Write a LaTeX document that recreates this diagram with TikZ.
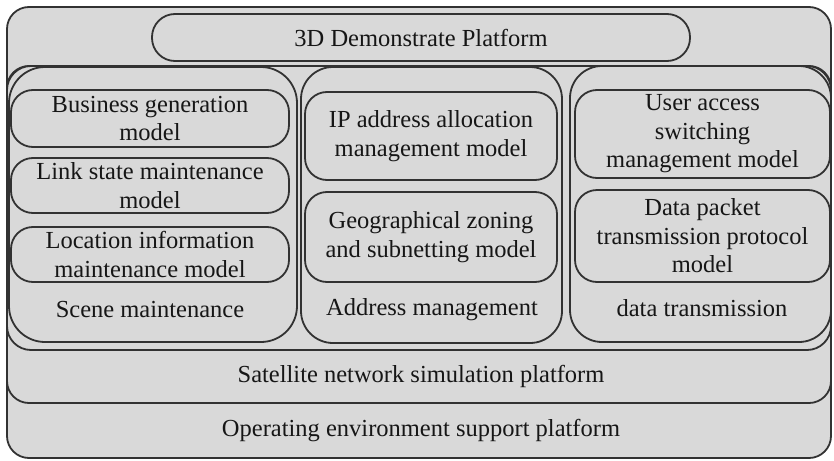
\documentclass[tikz,border=0pt]{standalone}
\usepackage{fontspec}
\setmainfont{Liberation Serif}
\definecolor{boxgray}{RGB}{217,217,217}
\definecolor{linegray}{RGB}{50,50,50}
\definecolor{textgray}{RGB}{22,22,22}
\tikzset{
  frame/.style={draw=linegray, line width=1.8pt, fill=boxgray, rounded corners=#1,
    inner sep=0pt, outer sep=0pt},
  modelbox/.style={frame=22pt, align=center, text=textgray,
    font=\fontsize{24.5}{28.5}\selectfont},
  txt/.style={inner sep=0pt, text=textgray, font=\fontsize{24.5}{28.5}\selectfont}
}
\begin{document}
\begin{tikzpicture}[x=1pt,y=-1pt]
  \useasboundingbox (0,0) rectangle (834,460);
  % platforms
  \node[frame=22pt, minimum width=824pt, minimum height=451pt] (operating) at (419,232.5) {};
  \node[frame=22pt, minimum width=824pt, minimum height=337pt] (satellite) at (419,234.5) {};
  \node[frame=24pt, minimum width=824pt, minimum height=284pt] (holder) at (419,208) {};
  \node[txt] (operatingtext) at (421,431) {Operating environment support platform};
  \node[txt] (satellitetext) at (421,376) {Satellite network simulation platform};
  % columns
  \node[frame=36pt, minimum width=288pt, minimum height=275pt] (scene) at (153,204.5) {};
  \node[frame=32pt, minimum width=261pt, minimum height=276pt] (address) at (431.5,205) {};
  \node[frame=32pt, minimum width=261pt, minimum height=276pt] (transfer) at (700.5,204) {};
  \node[txt] (scenetext) at (150,310) {Scene maintenance};
  \node[txt] (addresstext) at (432,310) {Address management};
  \node[txt] (transfertext) at (702,308) {data transmission};
  % models
  \node[modelbox, minimum width=278pt, minimum height=57pt] (business) at (150,118.5) {Business generation\\model};
  \node[modelbox, minimum width=278pt, minimum height=55pt] (linkstate) at (150,185.5) {Link state maintenance\\model};
  \node[modelbox, minimum width=278pt, minimum height=55pt] (location) at (150,254.5) {Location information\\maintenance model};
  \node[modelbox, minimum width=252pt, minimum height=88pt] (ipalloc) at (431,136) {IP address allocation\\management model};
  \node[modelbox, minimum width=252pt, minimum height=90pt] (zoning) at (431,237) {Geographical zoning\\and subnetting model};
  \node[modelbox, minimum width=255pt, minimum height=88pt] (useraccess) at (702.5,134) {User access\\switching\\management model};
  \node[modelbox, minimum width=255pt, minimum height=92pt] (packet) at (702.5,236) {Data packet\\transmission protocol\\model};
  % top
  \node[modelbox, rounded corners=23pt, minimum width=538pt, minimum height=47pt] (demo) at (421,37.5) {3D Demonstrate Platform};
\end{tikzpicture}
\end{document}
